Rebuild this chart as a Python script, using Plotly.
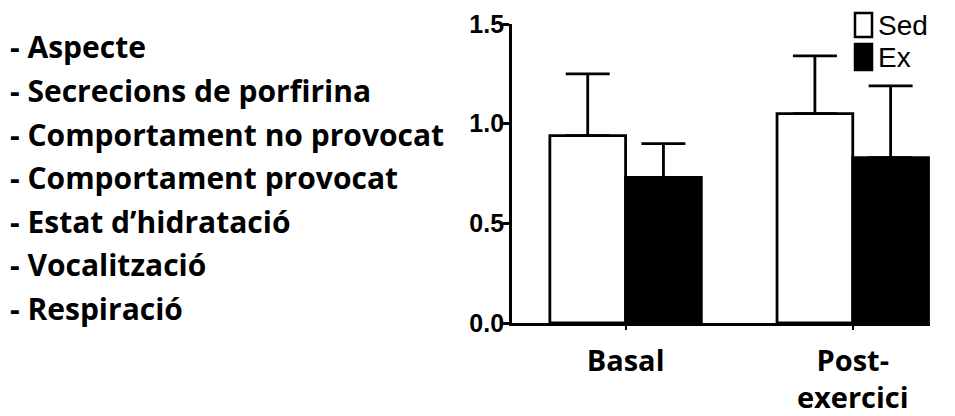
import plotly.graph_objects as go

categories = ["Basal", "Post-<br>exercici"]
sed_values = [0.94, 1.05]
sed_err = [0.31, 0.29]
ex_values = [0.73, 0.83]
ex_err = [0.17, 0.36]
series_names = ["Sed", "Ex"]
y_ticks = [0.0, 0.5, 1.0, 1.5]
y_tick_labels = ["0.0", "0.5", "1.0", "1.5"]
criteria = ["- Aspecte", "- Secrecions de porfirina", "- Comportament no provocat",
            "- Comportament provocat", "- Estat d\u2019hidratació", "- Vocalització", "- Respiració"]

W, H = 947, 408
L, R, T, B = 504, 25, 16, 93
PW, PH = W - L - R, H - T - B


def px(x):
    return (x - L) / PW


def py(y):
    return 1 - (y - T) / PH


fig = go.Figure()
fig.add_trace(go.Bar(x=[0, 1], y=sed_values, name=series_names[0],
                     marker=dict(color="white", line=dict(color="black", width=2.8)),
                     error_y=dict(type="data", array=sed_err, arrayminus=[0, 0], symmetric=False,
                                  color="black", thickness=2.8, width=22),
                     offsetgroup="a"))
fig.add_trace(go.Bar(x=[0, 1], y=ex_values, name=series_names[1],
                     marker=dict(color="black", line=dict(color="black", width=2.8)),
                     error_y=dict(type="data", array=ex_err, arrayminus=[0, 0], symmetric=False,
                                  color="black", thickness=2.8, width=22),
                     offsetgroup="b"))

fig.update_layout(
    width=W, height=H,
    margin=dict(l=L, r=R, t=T, b=B, autoexpand=False),
    plot_bgcolor="white", paper_bgcolor="white",
    barmode="group", bargap=1/3, bargroupgap=0,
    showlegend=False,
    font=dict(family="Liberation Sans, Arial", color="black"),
)
fig.update_xaxes(range=[-0.5, 1.34], tickvals=[0, 1], ticktext=categories,
                 showline=True, linecolor="black", linewidth=2.8,
                 ticks="outside", ticklen=4, tickwidth=2, tickcolor="black",
                 showgrid=False, zeroline=False, ticklabelstandoff=6, automargin=False,
                 tickfont=dict(family="Open Sans", size=29, color="black", weight="bold"))
fig.update_yaxes(range=[0, 1.5], tickvals=y_ticks, ticktext=y_tick_labels,
                 showline=True, linecolor="black", linewidth=2.8,
                 ticks="outside", ticklen=6, tickwidth=2.5, tickcolor="black",
                 showgrid=False, zeroline=False, ticklabelstandoff=-6, automargin=False,
                 tickfont=dict(family="Liberation Sans", size=25, color="black", weight="bold"))

# left-hand list of criteria
for i, t in enumerate(criteria):
    fig.add_annotation(text=t, xref="paper", yref="paper", x=px(0), y=py(39 + i * 43.5),
                       xanchor="left", yanchor="middle", showarrow=False,
                       font=dict(family="Open Sans", size=30, color="black", weight="bold"))

# custom legend
fills = ["white", "black"]
boxes = [(5, 29), (36, 62)]
for (n, c, (y0, y1)) in zip(series_names, fills, boxes):
    fig.add_shape(type="rect", xref="paper", yref="paper",
                  x0=px(847), x1=px(864), y0=py(y1), y1=py(y0),
                  fillcolor=c, line=dict(color="black", width=2.5))
    fig.add_annotation(text=n, xref="paper", yref="paper", x=px(868), y=py((y0 + y1) / 2),
                       xanchor="left", yanchor="middle", showarrow=False,
                       font=dict(family="Liberation Sans", size=28, color="black"))

fig.write_html("out.html")
